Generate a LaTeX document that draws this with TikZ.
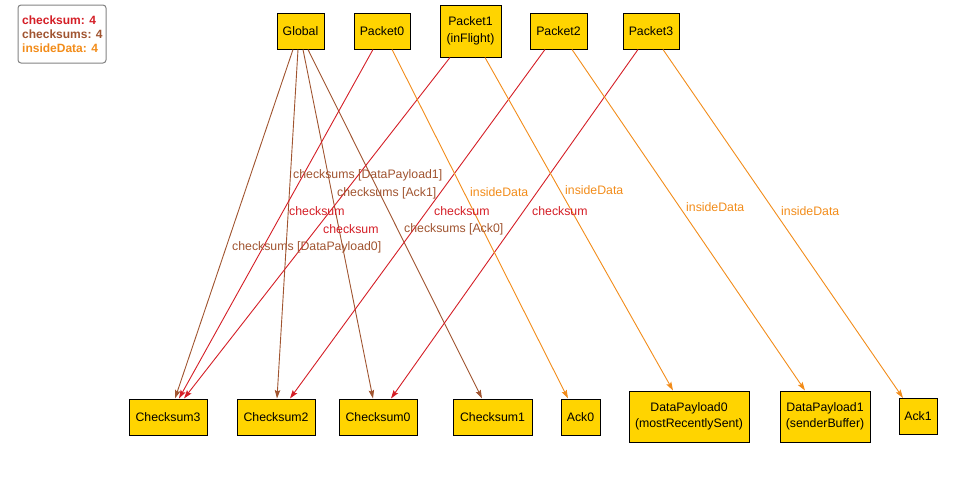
\documentclass[tikz,border=0pt]{standalone}
\usepackage{fontspec}
\setmainfont{Liberation Sans}
\usetikzlibrary{arrows.meta}
\definecolor{nodefill}{RGB}{255,212,0}
\definecolor{csred}{RGB}{212,30,38}
\definecolor{csbrown}{RGB}{160,84,48}
\definecolor{idorange}{RGB}{242,140,26}
\definecolor{legendgray}{RGB}{130,130,130}

\begin{document}
\begin{tikzpicture}[x=1pt,y=-1pt,
  atom/.style={draw=black, fill=nodefill, line width=1pt, inner sep=0pt,
    align=center, font=\fontsize{12.3}{16.5}\selectfont},
  rel/.style={line width=0.9pt, -{Stealth[length=8.5pt,width=5.5pt,inset=1.5pt]}},
  lbl/.style={anchor=west, inner sep=0pt, font=\fontsize{12.3}{14}\selectfont},
  legendtxt/.style={anchor=west, inner sep=0pt, font=\fontsize{12}{14}\selectfont\bfseries}
]
\useasboundingbox (0,0) rectangle (962,480);

% legend
\node[draw=legendgray, line width=1pt, rounded corners=3pt, minimum width=88pt,
  minimum height=58pt, inner sep=0pt] (legend) at (62,34) {};
\node[legendtxt, text=csred]    (lg1) at (22,20) {checksum: 4};
\node[legendtxt, text=csbrown]  (lg2) at (22,34) {checksums: 4};
\node[legendtxt, text=idorange] (lg3) at (22,48) {insideData: 4};

% top row
\node[atom, minimum width=47pt, minimum height=36pt] (Global)  at (300.5,31) {Global};
\node[atom, minimum width=56pt, minimum height=36pt] (Packet0) at (382,31) {Packet0};
\node[atom, minimum width=61pt, minimum height=52pt] (Packet1) at (470.5,31) {Packet1\\(inFlight)};
\node[atom, minimum width=57pt, minimum height=36pt] (Packet2) at (558.5,31) {Packet2};
\node[atom, minimum width=56pt, minimum height=36pt] (Packet3) at (651,31) {Packet3};

% bottom row
\node[atom, minimum width=78pt, minimum height=36pt] (Checksum3) at (168,417) {Checksum3};
\node[atom, minimum width=78pt, minimum height=36pt] (Checksum2) at (276,417) {Checksum2};
\node[atom, minimum width=78pt, minimum height=36pt] (Checksum0) at (378,417) {Checksum0};
\node[atom, minimum width=79pt, minimum height=36pt] (Checksum1) at (492.5,417) {Checksum1};
\node[atom, minimum width=39pt, minimum height=36pt] (Ack0) at (580.5,417) {Ack0};
\node[atom, minimum width=120pt, minimum height=51pt] (DataPayload0) at (689,416.5) {DataPayload0\\(mostRecentlySent)};
\node[atom, minimum width=90pt, minimum height=51pt] (DataPayload1) at (825,416.5) {DataPayload1\\(senderBuffer)};
\node[atom, minimum width=38pt, minimum height=36pt] (Ack1) at (918,416.5) {Ack1};

% checksums
\draw[rel, csbrown] ([xshift=-7.5pt]Global.south) -- ([xshift=7pt]Checksum3.north);
\draw[rel, csbrown] ([xshift=-2.5pt]Global.south) -- ([xshift=1pt]Checksum2.north);
\draw[rel, csbrown] ([xshift=2.5pt]Global.south) -- ([xshift=-5pt]Checksum0.north);
\draw[rel, csbrown] ([xshift=7.5pt]Global.south) -- ([xshift=-10.5pt]Checksum1.north);

% checksum
\draw[rel, csred] ([xshift=-9pt]Packet0.south) -- ([xshift=11pt]Checksum3.north);
\draw[rel, csred] ([xshift=-20.5pt]Packet1.south) -- ([xshift=16pt]Checksum3.north);
\draw[rel, csred] ([xshift=-13.5pt]Packet2.south) -- ([xshift=14pt]Checksum2.north);
\draw[rel, csred] ([xshift=-13pt]Packet3.south) -- ([xshift=13pt]Checksum0.north);

% insideData
\draw[rel, idorange] ([xshift=10pt]Packet0.south) -- ([xshift=-12.5pt]Ack0.north);
\draw[rel, idorange] ([xshift=14.5pt]Packet1.south) -- ([xshift=-16pt]DataPayload0.north);
\draw[rel, idorange] ([xshift=13.5pt]Packet2.south) -- ([xshift=-20pt]DataPayload1.north);
\draw[rel, idorange] ([xshift=12pt]Packet3.south) -- ([xshift=-15pt]Ack1.north);

% edge labels
\node[lbl, text=csbrown] (l1) at (293,175) {checksums [DataPayload1]};
\node[lbl, text=csbrown] (l2) at (337,193) {checksums [Ack1]};
\node[lbl, text=csbrown] (l3) at (404,229) {checksums [Ack0]};
\node[lbl, text=csbrown] (l4) at (232,247) {checksums [DataPayload0]};
\node[lbl, text=csred] (l5) at (289,211) {checksum};
\node[lbl, text=csred] (l6) at (323,229) {checksum};
\node[lbl, text=csred] (l7) at (434,211) {checksum};
\node[lbl, text=csred] (l8) at (532,211) {checksum};
\node[lbl, text=idorange] (l9) at (470,192) {insideData};
\node[lbl, text=idorange] (l10) at (565,190) {insideData};
\node[lbl, text=idorange] (l11) at (686,207) {insideData};
\node[lbl, text=idorange] (l12) at (781,211) {insideData};
\end{tikzpicture}
\end{document}
